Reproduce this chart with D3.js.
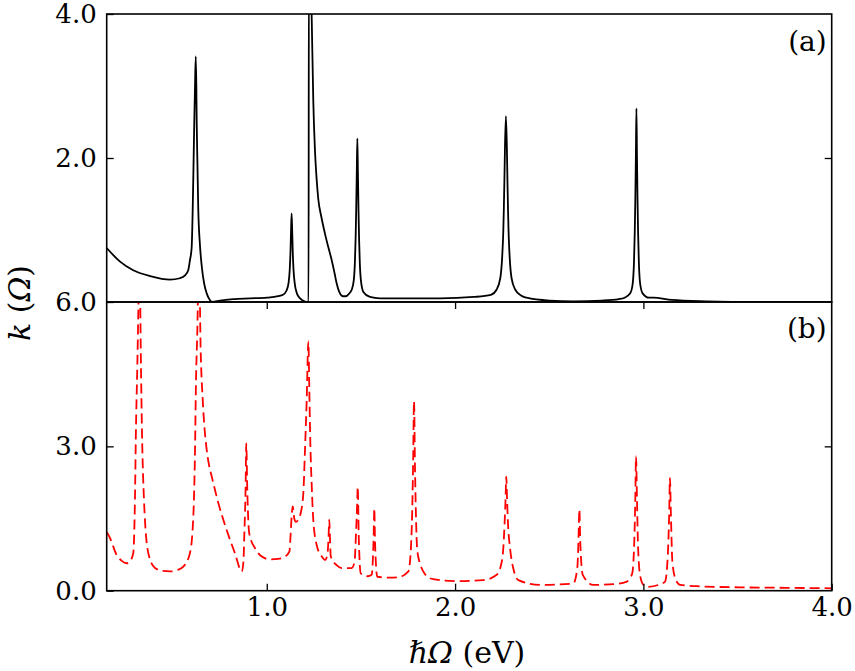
<!DOCTYPE html>
<html><head><meta charset="utf-8">
<script src="https://cdn.jsdelivr.net/npm/d3@7"></script>
<style>body{margin:0;background:#fff}svg{display:block}</style>
</head><body>
<svg id="chart" width="855" height="671"></svg>
<script>
// ---- data ----
const energyA = [0.150,0.221,0.291,0.380,0.486,0.539,0.566,0.583,0.592,0.601,0.607,0.611,0.615,0.619,0.623,0.626,0.628,0.632,0.636,0.645,0.655,0.668,0.681,0.695,0.710,0.752,0.821,0.911,1.001,1.060,
  1.086,1.105,1.116,1.122,1.126,1.129,1.132,1.135,1.138,1.142,1.148,1.160,1.177,1.200,1.222,1.2235,1.232,1.239,1.247,1.256,1.265,1.274,1.290,1.309,1.327,1.345,1.360,1.371,1.385,1.397,1.406,1.420,1.435,
  1.451,1.462,1.468,1.472,1.475,1.478,1.481,1.484,1.487,1.490,1.494,1.500,1.513,1.548,1.601,1.750,1.920,2.100,
  2.190,2.220,2.240,2.250,2.256,2.259,2.262,2.265,2.270,2.275,2.278,2.281,2.284,2.290,2.300,2.320,2.350,2.380,2.500,2.628,2.780,2.870,
  2.900,2.930,2.943,2.950,2.954,2.957,2.960,2.963,2.966,2.969,2.972,2.976,2.983,2.996,3.030,3.053,3.150,3.336,3.600,4.000];
const kA = [0.75,0.56,0.44,0.36,0.31,0.33,0.37,0.44,0.58,0.75,1.32,1.90,2.49,3.00,3.41,3.00,2.49,1.90,1.32,0.80,0.49,0.25,0.12,0.04,0.00,0.02,0.04,0.05,0.06,0.08,
  0.10,0.16,0.27,0.45,0.70,1.00,1.23,1.00,0.70,0.45,0.27,0.12,0.05,0.01,0.00,4.60,4.60,3.90,2.80,2.10,1.70,1.42,1.18,0.95,0.76,0.58,0.40,0.26,0.14,0.09,0.08,0.08,0.11,
  0.17,0.30,0.55,0.90,1.30,1.80,2.27,1.80,1.30,0.90,0.55,0.30,0.14,0.07,0.05,0.05,0.05,0.07,
  0.10,0.17,0.33,0.62,0.98,1.30,1.70,2.15,2.58,2.15,1.70,1.30,0.98,0.62,0.33,0.17,0.09,0.06,0.02,0.01,0.02,0.04,
  0.06,0.12,0.25,0.55,0.95,1.40,2.00,2.69,2.00,1.40,0.95,0.55,0.25,0.12,0.06,0.06,0.03,0.01,0.00,0.00];

const energyB = [0.150,0.168,0.203,0.230,0.256,0.275,0.291,0.300,0.305,0.3125,0.318,0.324,0.332,0.3375,0.348,0.371,0.4065,0.450,0.486,0.525,0.557,0.592,
  0.610,0.619,0.624,0.631,0.640,0.649,0.660,0.670,0.681,0.693,0.708,0.743,0.787,0.831,0.867,0.876,0.881,0.888,0.891,0.897,0.907,0.938,0.970,1.017,1.060,1.097,
  1.120,1.127,1.133,1.138,1.146,1.155,1.170,1.180,1.194,1.203,1.212,1.221,1.226,1.231,1.239,1.247,1.265,1.292,1.309,1.322,1.328,1.332,1.336,1.340,1.371,1.398,1.451,
  1.466,1.474,1.480,1.483,1.486,1.488,1.499,1.535,1.557,1.564,1.568,1.571,1.575,1.587,1.654,1.700,
  1.752,1.765,1.772,1.777,1.782,1.787,1.792,1.799,1.815,1.831,1.850,1.884,2.009,2.150,
  2.221,2.245,2.256,2.263,2.268,2.272,2.276,2.281,2.292,2.310,2.336,2.451,2.628,2.649,2.655,2.660,2.665,2.678,2.734,2.850,
  2.912,2.940,2.947,2.953,2.957,2.961,2.966,2.971,2.982,3.000,3.018,3.080,3.115,3.126,3.132,3.137,3.141,3.146,3.154,3.170,3.195,3.300,3.513,3.750,4.000];
const kB = [1.22,1.09,0.74,0.62,0.57,0.62,0.78,1.89,3.28,4.66,5.80,7.00,4.66,3.28,1.89,0.78,0.47,0.41,0.40,0.43,0.50,0.78,
  1.54,2.93,4.32,5.36,7.00,5.00,3.96,3.35,2.93,2.62,2.37,1.82,1.26,0.78,0.40,0.60,1.19,2.23,3.06,2.02,1.19,0.88,0.72,0.65,0.66,0.71,
  0.81,1.19,1.60,1.75,1.50,1.43,1.50,1.61,2.02,2.93,3.96,5.18,4.17,3.13,2.16,1.47,0.95,0.71,0.64,0.75,1.10,1.47,1.05,0.71,0.53,0.47,0.47,
  0.60,1.20,1.80,2.16,1.70,1.20,0.36,0.30,0.33,0.70,1.20,1.71,1.00,0.29,0.27,0.28,
  0.40,0.85,1.60,2.60,3.94,2.60,1.60,0.85,0.55,0.40,0.30,0.24,0.20,0.22,
  0.33,0.55,0.88,1.40,1.90,2.37,1.90,1.40,0.88,0.45,0.22,0.12,0.15,0.47,1.00,1.69,1.00,0.33,0.12,0.14,
  0.19,0.35,0.60,1.20,1.90,2.79,1.90,1.00,0.33,0.12,0.08,0.12,0.19,0.50,0.95,1.60,2.34,1.60,0.60,0.25,0.12,0.09,0.07,0.06,0.05];

const xTickValues = [1.0, 2.0, 3.0, 4.0];
const yTickValuesA = [2.0, 4.0];
const yTickValuesB = [0.0, 3.0, 6.0];
const panelLabels = ["(a)", "(b)"];

// ---- layout ----
const L = 106.7, R = 831.7, T = 14, M = 302, B = 590.7;
const FONT = "'DejaVu Serif', serif";
const svg = d3.select("#chart");

const x = d3.scaleLinear().domain([0.15, 4.0]).range([L, R]);
const yA = d3.scaleLinear().domain([0, 4]).range([M, T]);
const yB = d3.scaleLinear().domain([0, 6]).range([B, M]);

const defs = svg.append("defs");
defs.append("clipPath").attr("id", "clipA").append("rect").attr("x", L).attr("y", T).attr("width", R - L).attr("height", M - T);
defs.append("clipPath").attr("id", "clipB").append("rect").attr("x", L).attr("y", M).attr("width", R - L).attr("height", B - M);

const dataA = energyA.map((e, i) => [e, kA[i]]);
const dataB = energyB.map((e, i) => [e, kB[i]]);

svg.append("path").datum(dataA)
  .attr("clip-path", "url(#clipA)")
  .attr("fill", "none").attr("stroke", "#000").attr("stroke-width", 1.8).attr("stroke-linejoin", "round")
  .attr("d", d3.line().curve(d3.curveMonotoneX).x(d => x(d[0])).y(d => yA(d[1])));

svg.append("path").datum(dataB)
  .attr("clip-path", "url(#clipB)")
  .attr("fill", "none").attr("stroke", "#ff0000").attr("stroke-width", 1.8)
  .attr("stroke-dasharray", "10,5")
  .attr("d", d3.line().curve(d3.curveMonotoneX).x(d => x(d[0])).y(d => yB(d[1])));

const fmt = d3.format(".1f");
function styleAxis(g) {
  g.select(".domain").remove();
  g.selectAll(".tick line").attr("stroke", "#000").attr("stroke-width", 1.3);
  g.selectAll(".tick text").attr("font-family", FONT).attr("font-size", 26).attr("fill", "#000");
}

// left axes
svg.append("g").attr("transform", `translate(${L},0)`)
  .call(d3.axisLeft(yA).tickValues(yTickValuesA).tickFormat(fmt).tickSizeInner(-7).tickSizeOuter(0).tickPadding(10))
  .call(styleAxis);
svg.append("g").attr("transform", `translate(${L},0)`)
  .call(d3.axisLeft(yB).tickValues(yTickValuesB).tickFormat(fmt).tickSizeInner(-7).tickSizeOuter(0).tickPadding(10))
  .call(styleAxis);
// right ticks
svg.append("g").attr("transform", `translate(${R},0)`)
  .call(d3.axisRight(yA).tickValues([2.0]).tickFormat("").tickSizeInner(-7).tickSizeOuter(0))
  .call(styleAxis);
svg.append("g").attr("transform", `translate(${R},0)`)
  .call(d3.axisRight(yB).tickValues([3.0]).tickFormat("").tickSizeInner(-7).tickSizeOuter(0))
  .call(styleAxis);
// bottom axis (panel b)
svg.append("g").attr("transform", `translate(0,${B})`)
  .call(d3.axisBottom(x).tickValues(xTickValues).tickFormat(fmt).tickSizeInner(-7).tickSizeOuter(0).tickPadding(7))
  .call(styleAxis);
// top ticks of panel b (pointing down)
svg.append("g").attr("transform", `translate(0,${M})`)
  .call(d3.axisTop(x).tickValues(xTickValues.slice(0, 3)).tickFormat("").tickSizeInner(-7).tickSizeOuter(0))
  .call(styleAxis);

// frames
svg.append("rect").attr("x", L).attr("y", T).attr("width", R - L).attr("height", M - T)
  .attr("fill", "none").attr("stroke", "#000").attr("stroke-width", 1.6);
svg.append("rect").attr("x", L).attr("y", M).attr("width", R - L).attr("height", B - M)
  .attr("fill", "none").attr("stroke", "#000").attr("stroke-width", 1.6);

// panel labels
svg.append("text").attr("x", R - 5).attr("y", T + 37).attr("text-anchor", "end")
  .attr("font-family", FONT).attr("font-size", 28).text(panelLabels[0]);
svg.append("text").attr("x", R - 5).attr("y", M + 36).attr("text-anchor", "end")
  .attr("font-family", FONT).attr("font-size", 28).text(panelLabels[1]);

// axis titles
const yl = svg.append("text").attr("transform", "translate(30,303) rotate(-90)").attr("text-anchor", "middle")
  .attr("font-family", FONT).attr("font-size", 30);
yl.append("tspan").attr("font-style", "italic").text("k");
yl.append("tspan").text(" (");
yl.append("tspan").attr("font-style", "italic").text("Ω");
yl.append("tspan").text(")");

const xl = svg.append("text").attr("x", 467).attr("y", 663).attr("text-anchor", "middle")
  .attr("font-family", FONT).attr("font-size", 30);
xl.append("tspan").attr("font-style", "italic").text("ℏΩ");
xl.append("tspan").text(" (eV)");
</script>
</body></html>
